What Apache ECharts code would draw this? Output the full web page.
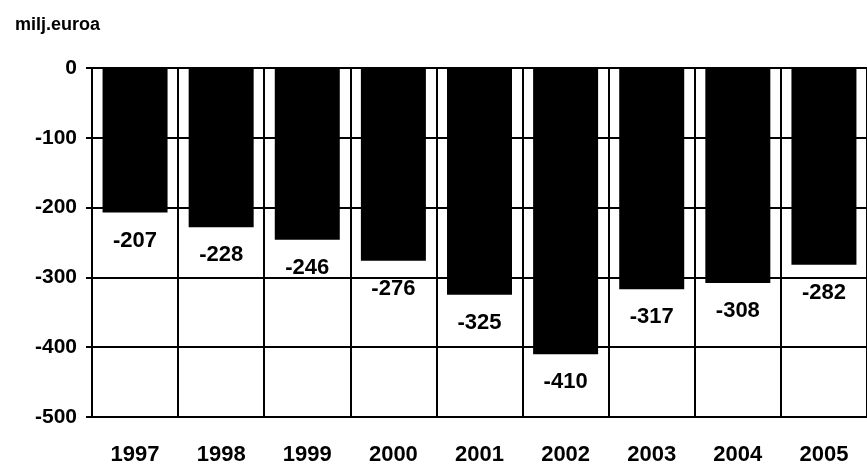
<!DOCTYPE html>
<html>
<head>
<meta charset="utf-8">
<script src="https://cdn.jsdelivr.net/npm/echarts@6/dist/echarts.min.js"></script>
<style>
html,body{margin:0;padding:0;background:#fff;}
#c{width:867px;height:470px;}
</style>
</head>
<body>
<div id="c"></div>
<script>
const years = ['1997','1998','1999','2000','2001','2002','2003','2004','2005'];
const values = [-207,-228,-246,-276,-325,-410,-317,-308,-282];
const unitLabel = 'milj.euroa';

const FONT = "'Liberation Sans', Arial, sans-serif";
const chart = echarts.init(document.getElementById('c'), null, {renderer:'canvas'});
chart.setOption({
  animation: false,
  backgroundColor: '#fff',
  title: {
    text: unitLabel, left: 10, top: 11,
    textStyle: {fontFamily: FONT, fontWeight: 'bold', fontSize: 18, color: '#000'}
  },
  grid: {left: 92, top: 68, width: 781, height: 349, containLabel: false},
  xAxis: {
    type: 'category', data: years, position: 'bottom',
    axisLine: {show: true, onZero: false, lineStyle: {color: '#000', width: 2}},
    axisTick: {show: false},
    splitLine: {show: true, interval: 0, lineStyle: {color: '#000', width: 2}},
    axisLabel: {margin: 27, color: '#000', fontFamily: FONT, fontWeight: 'bold', fontSize: 22, interval: 0}
  },
  yAxis: {
    type: 'value', min: -500, max: 0, interval: 100,
    axisLine: {show: true, lineStyle: {color: '#000', width: 2}},
    axisTick: {show: true, length: 6, lineStyle: {color: '#000', width: 2}},
    splitLine: {show: true, lineStyle: {color: '#000', width: 2}},
    axisLabel: {margin: 15, color: '#000', fontFamily: FONT, fontWeight: 'bold', fontSize: 21}
  },
  series: [{
    type: 'bar', data: values, barWidth: 65,
    itemStyle: {color: '#000'},
    label: {show: true, position: 'bottom', distance: 17, color: '#000',
      fontFamily: FONT, fontWeight: 'bold', fontSize: 22}
  }]
});
</script>
</body>
</html>
